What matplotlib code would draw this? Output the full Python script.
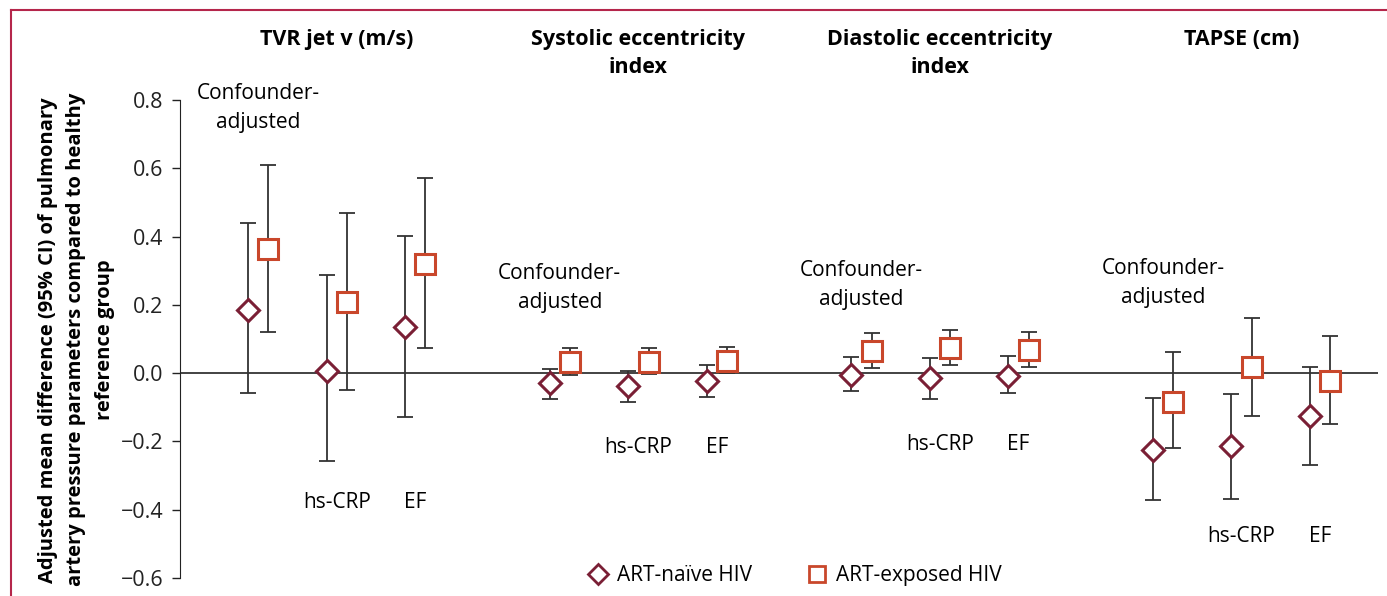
import matplotlib.pyplot as plt
from matplotlib.lines import Line2D
import numpy as np

plt.rcParams['font.family'] = ['Open Sans', 'DejaVu Sans']

# Daten: je Gruppe drei Modelle (Confounder-adjusted, hs-CRP, EF)
groups = ['TVR jet v (m/s)', 'Systolic eccentricity\nindex',
          'Diastolic eccentricity\nindex', 'TAPSE (cm)']
models = ['Confounder-\nadjusted', 'hs-CRP', 'EF']

naive_mean = [0.185, 0.006, 0.135, -0.029, -0.038, -0.023,
              -0.006, -0.015, -0.009, -0.226, -0.214, -0.126]
naive_lo = [-0.059, -0.258, -0.129, -0.076, -0.085, -0.070,
            -0.053, -0.076, -0.059, -0.372, -0.369, -0.270]
naive_hi = [0.440, 0.287, 0.401, 0.012, 0.006, 0.023,
            0.047, 0.044, 0.050, -0.073, -0.062, 0.018]

exp_mean = [0.363, 0.208, 0.319, 0.032, 0.032, 0.035,
            0.064, 0.073, 0.067, -0.085, 0.018, -0.023]
exp_lo = [0.120, -0.050, 0.073, -0.006, -0.003, 0.000,
          0.015, 0.023, 0.018, -0.220, -0.126, -0.149]
exp_hi = [0.609, 0.469, 0.571, 0.073, 0.073, 0.076,
          0.117, 0.126, 0.120, 0.061, 0.161, 0.108]

# Beschriftungshoehe der Modellnamen je Gruppe
label_top = [0.776, 0.249, 0.258, 0.264]
label_bottom = [-0.378, -0.217, -0.208, -0.477]

naive_col = '#7a1f35'
exp_col = '#c9472b'

fig = plt.figure(figsize=(13.87, 5.96), dpi=100)
ax = fig.add_axes([0.1298, 0.0302, 0.8637, 0.802])

pos = np.array([g * 3.84 + j for g in range(4) for j in range(3)], dtype=float)
off = 0.13

nm = np.array(naive_mean)
em = np.array(exp_mean)
ax.errorbar(pos - off, nm, yerr=[nm - np.array(naive_lo), np.array(naive_hi) - nm],
            fmt='none', ecolor='#333333', elinewidth=1.3, capsize=5.5, capthick=1.3, zorder=2)
ax.errorbar(pos + off, em, yerr=[em - np.array(exp_lo), np.array(exp_hi) - em],
            fmt='none', ecolor='#333333', elinewidth=1.3, capsize=5.5, capthick=1.3, zorder=2)
ax.plot(pos - off, nm, 'D', ms=11, mfc='white', mec=naive_col, mew=2.2, ls='none', zorder=3)
ax.plot(pos + off, em, 's', ms=14, mfc='white', mec=exp_col, mew=2.2, ls='none', zorder=3)

ax.axhline(0, color='#222222', lw=1.2, zorder=1)

for g in range(4):
    x0 = g * 3.84
    ax.text(x0 + 1.0, 1.148, groups[g], ha='center', va='top', fontsize=15.5,
            fontweight='bold', linespacing=1.45,
            transform=ax.get_xaxis_transform(), clip_on=False)
    ax.text(x0, label_top[g], models[0], ha='center', va='center', fontsize=15,
            linespacing=1.5, clip_on=False)
    ax.text(x0 + 1.0, label_bottom[g], models[1], ha='center', va='center', fontsize=15)
    ax.text(x0 + 2.0, label_bottom[g], models[2], ha='center', va='center', fontsize=15)

ax.set_xlim(-0.866 - off, 14.39 - off)
ax.set_ylim(-0.6, 0.8)
ax.set_yticks(np.arange(-0.6, 0.81, 0.2))
ax.set_yticklabels(['\u22120.6', '\u22120.4', '\u22120.2', '0.0', '0.2', '0.4', '0.6', '0.8'])
ax.tick_params(axis='y', labelsize=15.5, length=6, width=1, colors='#222222', pad=6)
ax.set_xticks([])
for s in ['top', 'right', 'bottom']:
    ax.spines[s].set_visible(False)
ax.spines['left'].set_color('#222222')

fig.text(0.055, 0.43, 'Adjusted mean difference (95% CI) of pulmonary\n'
         'artery pressure parameters compared to healthy\nreference group',
         rotation=90, ha='center', va='center', fontsize=14.5, fontweight='bold',
         linespacing=1.55)

handles = [Line2D([], [], marker='D', ls='none', ms=10, mfc='white', mec=naive_col, mew=2),
           Line2D([], [], marker='s', ls='none', ms=12, mfc='white', mec=exp_col, mew=2)]
fig.legend(handles, ['ART-naïve HIV', 'ART-exposed HIV'], loc='center',
           bbox_to_anchor=(0.573, 0.034), ncol=2, frameon=False, fontsize=15,
           handletextpad=0.4, columnspacing=2.6, handlelength=1.0)

# Rahmen oben und links
fig.add_artist(Line2D([11 / 1387, 1.0], [1 - 10 / 596, 1 - 10 / 596], color='#b5264b', lw=1.5))
fig.add_artist(Line2D([11 / 1387, 11 / 1387], [0, 1 - 10 / 596], color='#b5264b', lw=1.5))

fig.savefig('out.png', dpi=100)
